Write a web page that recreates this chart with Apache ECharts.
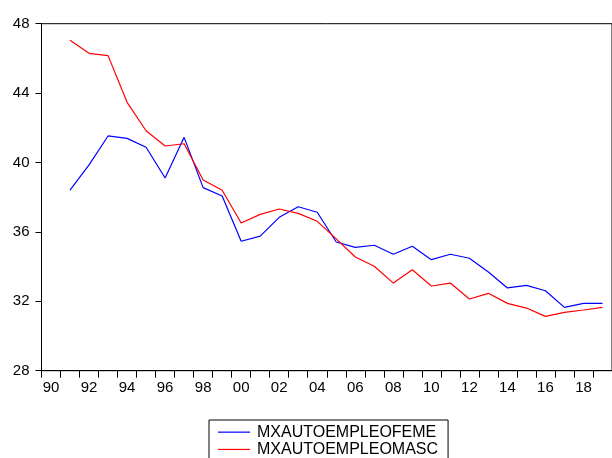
<!DOCTYPE html>
<html>
<head>
<meta charset="utf-8">
<script src="https://cdn.jsdelivr.net/npm/echarts@6/dist/echarts.min.js"></script>
<style>
html,body{margin:0;padding:0;background:#fff;}
#chart{width:612px;height:458px;}
</style>
</head>
<body>
<div id="chart"></div>
<script>
// Years (annual), 1990-2019; data start in 1991
const years = [1990,1991,1992,1993,1994,1995,1996,1997,1998,1999,2000,2001,2002,2003,2004,2005,2006,2007,2008,2009,2010,2011,2012,2013,2014,2015,2016,2017,2018,2019];
const seriesNames = ['MXAUTOEMPLEOFEME', 'MXAUTOEMPLEOMASC'];
const feme = [null,38.41,39.86,41.53,41.39,40.88,39.11,41.45,38.55,38.07,35.46,35.76,36.84,37.45,37.13,35.42,35.11,35.23,34.71,35.17,34.40,34.71,34.48,33.69,32.77,32.92,32.61,31.65,31.88,31.88];
const masc = [null,47.04,46.29,46.16,43.47,41.83,40.95,41.08,38.99,38.40,36.51,37.01,37.32,37.07,36.61,35.60,34.55,34.02,33.05,33.82,32.88,33.05,32.13,32.46,31.88,31.61,31.13,31.36,31.50,31.65];
const yTicks = {min: 28, max: 48, interval: 4};

const chart = echarts.init(document.getElementById('chart'), null, {renderer: 'canvas'});
const font = 'Liberation Sans, Arial, sans-serif';
chart.setOption({
  animation: false,
  backgroundColor: '#ffffff',
  grid: {
    left: 41.5, top: 23.7, width: 580, height: 347,
    show: true, borderColor: '#000', borderWidth: 1, backgroundColor: 'transparent'
  },
  xAxis: {
    type: 'category',
    data: years,
    boundaryGap: true,
    axisLine: {show: true, lineStyle: {color: '#000', width: 1}},
    axisTick: {show: true, interval: 0, length: 7, lineStyle: {color: '#000', width: 1}},
    axisLabel: {
      interval: 1, margin: 10, color: '#000', fontFamily: font, fontSize: 15,
      formatter: v => String(v).slice(2)
    },
    splitLine: {show: false}
  },
  yAxis: {
    type: 'value',
    min: yTicks.min, max: yTicks.max, interval: yTicks.interval,
    axisLine: {show: true, lineStyle: {color: '#000', width: 1}},
    axisTick: {show: true, length: 6, lineStyle: {color: '#000', width: 1}},
    axisLabel: {margin: 12, color: '#000', fontFamily: font, fontSize: 15},
    splitLine: {show: false}
  },
  legend: {
    orient: 'vertical',
    left: 209, top: 420, height: 80,
    borderColor: '#000', borderWidth: 1,
    padding: [4, 10, 8, 9],
    icon: 'rect',
    itemWidth: 32, itemHeight: 1.2, itemGap: 1,
    textStyle: {color: '#000', fontFamily: font, fontSize: 16, lineHeight: 16.3, padding: [0, 0, 0, 2]},
    data: seriesNames
  },
  series: [
    {name: seriesNames[0], type: 'line', data: feme, symbol: 'none', showSymbol: false,
     lineStyle: {color: '#0000ff', width: 1.2}, itemStyle: {color: '#0000ff'}},
    {name: seriesNames[1], type: 'line', data: masc, symbol: 'none', showSymbol: false,
     lineStyle: {color: '#ff0000', width: 1.2}, itemStyle: {color: '#ff0000'}}
  ]
});
</script>
</body>
</html>
